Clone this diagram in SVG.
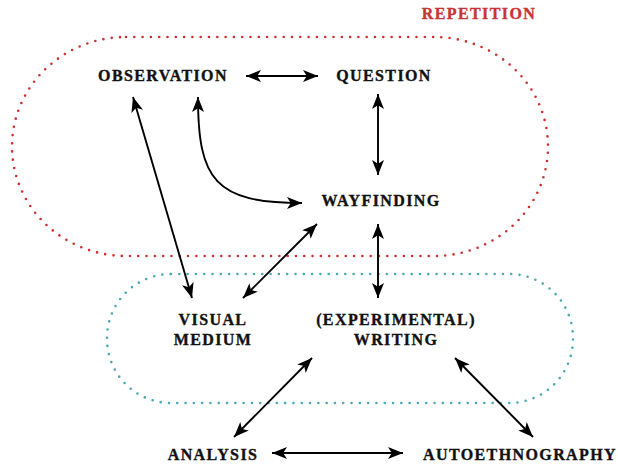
<svg xmlns="http://www.w3.org/2000/svg" width="618" height="465" viewBox="0 0 618 465">
<defs>
<style>
.lbl{font-family:"Liberation Serif","Times New Roman",serif;font-weight:bold;font-size:16px;letter-spacing:1.4px;fill:#111;stroke:#111;stroke-width:0.35;text-anchor:middle}
.rep{fill:#c83434;stroke:#c83434}
.edge{fill:none;stroke:#000;stroke-width:1.9;marker-start:url(#ah);marker-end:url(#ah)}
.dotr{fill:none;stroke:#cc3030;stroke-width:2.6;stroke-linecap:round;stroke-dasharray:0 8.3}
.dott{fill:none;stroke:#4aa8b0;stroke-width:2.6;stroke-linecap:round;stroke-dasharray:0 8.3}
</style>
<marker id="ah" viewBox="0 0 15 12" refX="15" refY="6" markerWidth="15" markerHeight="12" markerUnits="userSpaceOnUse" orient="auto-start-reverse">
<path d="M0,0 L15,6 L0,12 L3.8,6 Z" fill="#000"/>
</marker>
</defs>
<rect width="618" height="465" fill="#fff"/>
<g id="repetition">
<rect class="dotr" x="12" y="37" width="536" height="219" rx="114" ry="109.5"/>
<text class="lbl rep" x="479" y="19">REPETITION</text>
</g>
<g id="medium-group">
<rect class="dott" x="107" y="274" width="466" height="129" rx="64" ry="64"/>
</g>
<g id="observation"><text class="lbl" x="163" y="81">OBSERVATION</text></g>
<g id="question"><text class="lbl" x="384" y="81">QUESTION</text></g>
<g id="wayfinding"><text class="lbl" x="381" y="206">WAYFINDING</text></g>
<g id="visual-medium"><text class="lbl" x="213" y="325">VISUAL</text><text class="lbl" x="213" y="345">MEDIUM</text></g>
<g id="writing"><text class="lbl" x="396" y="325">(EXPERIMENTAL)</text><text class="lbl" x="396" y="345">WRITING</text></g>
<g id="analysis"><text class="lbl" x="213" y="460">ANALYSIS</text></g>
<g id="autoethnography"><text class="lbl" x="520" y="460">AUTOETHNOGRAPHY</text></g>
<g id="connectors">
<path class="edge" d="M246,76 L318,76"/>
<path class="edge" d="M378,94 L378,175"/>
<path class="edge" d="M198,97 C198,180 215,203 302,203"/>
<path class="edge" d="M133,97 L192,298"/>
<path class="edge" d="M317,224 L243,298"/>
<path class="edge" d="M378,224 L378,298"/>
<path class="edge" d="M312,358 L234,437"/>
<path class="edge" d="M455,358 L533,437"/>
<path class="edge" d="M272,453 L403,453"/>
</g>
</svg>
